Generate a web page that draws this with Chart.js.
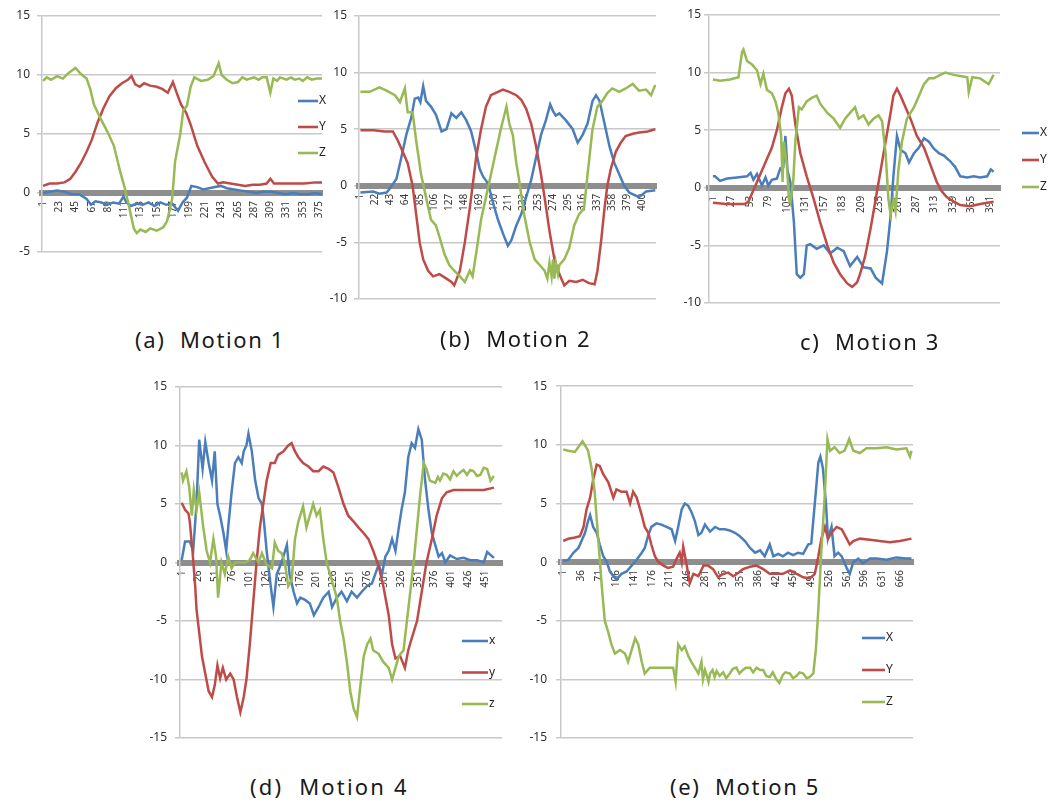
<!DOCTYPE html>
<html>
<head>
<meta charset="utf-8">
<script src="https://cdn.jsdelivr.net/npm/chart.js@4.4.1/dist/chart.umd.min.js"></script>
<style>
  body { margin: 0; background: #fff; width: 1059px; height: 805px; position: relative; overflow: hidden; font-family: "Noto Sans", sans-serif; }
  canvas { position: absolute; }
  .cap { position: absolute; font-size: 22px; line-height: 22px; color: #1a1a1a; white-space: pre; letter-spacing: 1.6px; }
</style>
</head>
<body>
<canvas id="m1" width="340" height="300" style="left:0;top:0"></canvas>
<canvas id="m2" width="345" height="320" style="left:325px;top:0"></canvas>
<canvas id="m3" width="389" height="320" style="left:670px;top:0"></canvas>
<canvas id="m4" width="380" height="390" style="left:130px;top:370px"></canvas>
<canvas id="m5" width="420" height="390" style="left:510px;top:370px"></canvas>
<div class="cap" style="left:135px;top:328px">(a)  Motion 1</div>
<div class="cap" style="left:440px;top:327px">(b)  Motion 2</div>
<div class="cap" style="left:800px;top:330px">c)  Motion 3</div>
<div class="cap" style="left:250px;top:775px;letter-spacing:2.2px">(d)  Motion 4</div>
<div class="cap" style="left:670px;top:775px">(e)  Motion 5</div>
<script>
// readings are [sample number, value] taken off the original plots

// Motion 1
var m1Ticks = [1, 23, 45, 67, 89, 111, 133, 155, 177, 199, 221, 243, 265, 287, 309, 331, 353, 375];
var m1X = [[1,0.0],[10,0.1],[20,0.2],[30,0.1],[40,-0.1],[50,-0.1],[60,-0.5],[66,-1.0],[72,-0.7],[80,-0.8],[88,-1.0],[96,-0.8],[104,-0.9],[110,-0.3],[114,-0.8],[120,-1.1],[128,-0.9],[136,-1.0],[144,-0.8],[152,-1.1],[160,-0.8],[168,-1.0],[176,-0.9],[184,-1.5],[190,-0.8],[196,-0.4],[202,0.6],[210,0.5],[218,0.3],[226,0.4],[234,0.5],[242,0.6],[250,0.4],[260,0.3],[270,0.2],[280,0.1],[290,0.0],[300,0.1],[310,0.1],[320,0.0],[330,-0.1],[340,0.0],[350,-0.1],[360,-0.1],[370,0.0],[379,-0.1]];
var m1Y = [[1,0.6],[10,0.8],[20,0.8],[30,0.9],[38,1.2],[45,1.8],[52,2.5],[60,3.5],[67,4.5],[75,6.0],[83,7.2],[91,8.2],[100,8.9],[108,9.3],[116,9.6],[121,9.9],[126,9.2],[132,9.0],[138,9.3],[146,9.1],[155,9.0],[163,8.8],[170,8.5],[177,9.4],[182,8.5],[188,7.5],[195,6.8],[201,5.8],[210,4.0],[220,2.6],[230,1.4],[238,0.8],[245,0.9],[255,0.8],[265,0.7],[275,0.6],[285,0.7],[295,0.7],[304,0.8],[309,1.2],[314,0.8],[325,0.8],[340,0.8],[355,0.8],[370,0.9],[379,0.9]];
var m1Z = [[1,9.5],[6,9.8],[12,9.6],[20,9.9],[28,9.7],[36,10.2],[45,10.6],[52,10.1],[60,9.7],[65,8.8],[70,7.5],[79,6.3],[89,5.1],[97,4.0],[106,1.7],[111,0.6],[117,-1.0],[124,-3.0],[128,-3.4],[133,-3.1],[140,-3.3],[146,-3.0],[155,-3.2],[164,-2.9],[169,-2.4],[176,-0.5],[180,2.7],[187,5.0],[191,7.0],[196,7.4],[201,9.0],[206,9.8],[215,9.5],[224,9.6],[232,9.9],[239,11.0],[243,10.0],[250,9.6],[258,9.3],[265,9.4],[271,9.8],[277,9.6],[287,9.8],[293,9.6],[298,9.8],[304,9.8],[309,8.5],[313,9.7],[318,9.5],[322,9.8],[331,9.6],[337,9.8],[342,9.6],[348,9.7],[353,9.5],[359,9.8],[365,9.6],[372,9.7],[379,9.7]];

// Motion 2
var m2Ticks = [1, 22, 43, 64, 85, 106, 127, 148, 169, 190, 211, 232, 253, 274, 295, 316, 337, 358, 379, 400];
var m2X = [[1,-0.6],[19,-0.5],[28,-0.7],[38,-0.6],[42,-0.3],[52,0.6],[59,2.5],[66,4.5],[73,6.0],[78,7.7],[83,7.8],[86,7.4],[90,8.8],[94,7.5],[101,7.0],[108,6.3],[116,4.8],[123,5.0],[130,6.4],[137,6.0],[144,6.5],[151,5.8],[158,4.8],[165,3.0],[170,1.5],[175,0.8],[182,0.2],[189,-1.5],[196,-3.0],[203,-4.2],[210,-5.3],[215,-4.8],[222,-3.5],[229,-2.5],[236,-1.0],[243,0.5],[250,2.5],[257,4.5],[264,5.8],[270,7.2],[274,6.6],[278,6.2],[283,6.4],[292,5.8],[302,5.0],[309,3.8],[316,4.5],[323,5.5],[330,7.5],[335,8.0],[340,7.5],[347,5.5],[354,3.5],[361,2.0],[368,1.0],[375,0.0],[382,-0.6],[389,-0.8],[396,-1.0],[406,-0.5],[419,-0.4]];
var m2Y = [[1,4.9],[20,4.9],[35,4.8],[47,4.8],[54,4.0],[61,3.0],[68,2.0],[75,0.0],[80,-2.5],[85,-5.0],[90,-6.5],[97,-7.5],[104,-8.0],[113,-7.8],[123,-8.2],[130,-8.5],[134,-8.8],[142,-7.5],[149,-5.0],[156,-2.0],[160,0.0],[165,2.5],[172,5.0],[179,7.0],[186,8.0],[196,8.3],[203,8.5],[212,8.3],[222,8.0],[229,7.6],[236,6.8],[243,5.5],[250,3.5],[257,1.0],[262,-1.0],[269,-4.0],[276,-6.5],[283,-7.8],[290,-8.8],[297,-8.4],[307,-8.5],[316,-8.3],[325,-8.6],[333,-8.7],[337,-7.5],[342,-5.0],[347,-2.0],[351,0.0],[356,1.5],[363,3.0],[370,3.8],[377,4.4],[387,4.6],[396,4.7],[408,4.8],[419,5.0]];
var m2Z = [[1,8.3],[14,8.3],[28,8.7],[38,8.4],[50,8.0],[57,7.4],[64,8.6],[68,6.5],[75,6.5],[80,4.0],[87,1.0],[94,-1.0],[101,-3.0],[108,-3.5],[113,-4.5],[120,-6.0],[127,-7.0],[134,-7.5],[142,-8.0],[149,-8.5],[156,-7.5],[160,-8.0],[165,-6.0],[172,-3.0],[179,-1.0],[186,1.0],[193,3.0],[200,5.0],[208,7.0],[212,5.5],[217,4.5],[222,2.0],[226,0.5],[233,-2.5],[241,-5.0],[248,-6.5],[255,-7.0],[262,-7.5],[266,-8.2],[269,-6.8],[272,-8.0],[274,-6.5],[276,-8.2],[278,-6.8],[281,-7.8],[283,-7.0],[290,-6.5],[297,-5.5],[304,-3.5],[311,-2.5],[318,-2.0],[323,1.0],[330,5.0],[337,7.0],[344,7.5],[351,8.2],[358,8.6],[368,8.3],[377,8.6],[387,9.0],[396,8.4],[406,8.5],[413,8.0],[419,8.9]];

// Motion 3
var m3Ticks = [1, 27, 53, 79, 105, 131, 157, 183, 209, 235, 261, 287, 313, 339, 365, 391];
var m3X = [[1,1.0],[4,1.0],[11,0.6],[21,0.8],[35,0.9],[49,1.0],[54,1.3],[58,0.7],[63,1.2],[70,0.2],[75,0.9],[79,0.2],[84,0.7],[91,0.8],[96,1.7],[100,1.8],[103,4.5],[106,1.5],[110,0.5],[115,-3.0],[119,-7.5],[124,-7.8],[129,-7.5],[133,-5.0],[138,-4.9],[147,-5.3],[157,-5.0],[166,-5.7],[176,-5.2],[185,-5.5],[194,-6.8],[204,-6.0],[213,-6.9],[223,-7.0],[230,-7.8],[239,-8.3],[246,-5.5],[251,-2.5],[255,1.0],[260,4.5],[265,3.3],[272,3.0],[277,2.2],[284,3.0],[291,3.5],[298,4.3],[305,4.0],[312,3.4],[319,3.0],[326,2.8],[335,2.3],[342,1.8],[349,1.0],[359,0.9],[368,1.0],[377,0.9],[387,1.0],[392,1.6],[396,1.4]];
var m3Y = [[1,-1.3],[20,-1.4],[35,-1.4],[46,-1.4],[51,-1.2],[56,-0.5],[63,0.5],[70,1.5],[77,2.5],[84,3.5],[91,5.0],[98,7.0],[103,8.2],[108,8.6],[112,8.0],[117,5.5],[124,3.0],[133,1.0],[143,-1.0],[152,-3.0],[162,-5.0],[171,-6.5],[180,-7.5],[190,-8.3],[197,-8.6],[204,-8.2],[208,-7.5],[215,-6.0],[223,-3.5],[230,-1.0],[237,1.5],[244,4.0],[251,6.5],[255,8.0],[260,8.6],[265,8.0],[272,7.0],[279,6.0],[288,4.5],[298,3.5],[307,2.0],[316,0.5],[323,-0.3],[330,-0.8],[340,-1.2],[349,-1.5],[363,-1.6],[377,-1.4],[387,-1.3],[396,-1.2]];
var m3Z = [[1,9.4],[11,9.3],[25,9.4],[37,9.6],[42,11.8],[44,12.0],[49,11.0],[56,10.7],[63,10.2],[68,9.0],[72,9.9],[77,8.5],[84,8.2],[89,7.5],[93,6.5],[97,4.5],[99,0.5],[101,4.0],[105,2.0],[108,-1.0],[110,-1.3],[114,0.5],[117,4.0],[122,7.0],[126,6.8],[133,7.5],[140,7.8],[147,8.0],[152,7.3],[162,6.5],[171,6.0],[180,5.2],[187,6.0],[194,6.5],[201,7.0],[206,6.0],[213,6.3],[220,5.5],[227,6.0],[234,6.3],[239,5.8],[244,3.0],[248,-1.0],[251,-2.3],[255,-1.0],[258,-2.0],[262,1.5],[267,4.0],[274,6.0],[284,7.0],[291,8.0],[298,9.0],[305,9.5],[312,9.5],[321,9.8],[328,10.0],[340,9.8],[349,9.7],[359,9.6],[361,8.3],[366,9.6],[377,9.5],[389,9.0],[396,9.8]];

// Motion 4
var m4Ticks = [1, 26, 51, 76, 101, 126, 151, 176, 201, 226, 251, 276, 301, 326, 351, 376, 401, 426, 451];
var m4X = [[1,0.2],[6,1.8],[13,1.8],[18,1.0],[23,5.0],[27,10.5],[32,8.0],[36,10.3],[41,8.5],[46,7.0],[50,9.5],[54,5.0],[58,4.0],[63,2.5],[67,1.0],[70,3.0],[75,6.0],[80,8.5],[85,9.0],[90,8.5],[93,9.5],[97,10.0],[100,11.0],[105,9.5],[110,7.0],[115,5.5],[120,5.0],[123,3.5],[127,1.0],[133,-2.0],[137,-3.8],[142,-1.0],[149,0.0],[157,1.5],[161,-1.0],[167,-2.5],[172,-3.5],[177,-3.0],[184,-3.2],[191,-3.5],[197,-4.5],[204,-3.8],[211,-3.0],[219,-2.5],[224,-3.8],[231,-3.0],[238,-2.5],[246,-3.3],[253,-2.5],[261,-3.0],[268,-2.5],[276,-2.0],[283,-1.8],[288,-1.0],[293,-0.2],[298,-1.0],[303,0.5],[308,1.0],[313,2.0],[318,1.0],[323,3.0],[327,4.5],[332,6.0],[337,9.0],[342,10.2],[347,9.8],[352,11.4],[357,10.5],[362,7.0],[367,4.5],[372,2.5],[377,1.5],[382,0.5],[387,0.8],[392,0.0],[399,0.6],[409,0.3],[419,0.4],[429,0.2],[439,0.2],[449,0.0],[454,0.9],[464,0.4]];
var m4Y = [[1,5.1],[6,4.5],[11,4.2],[13,3.5],[17,1.0],[21,-2.0],[23,-4.0],[27,-6.0],[31,-8.0],[36,-9.5],[41,-11.0],[46,-11.5],[50,-10.5],[54,-8.8],[58,-9.9],[62,-9.0],[67,-10.0],[73,-9.5],[78,-10.0],[83,-11.5],[88,-12.8],[93,-11.5],[97,-10.0],[102,-7.0],[107,-3.5],[112,0.0],[117,3.0],[122,5.0],[127,7.0],[133,8.5],[139,8.5],[144,9.2],[152,9.5],[159,10.0],[164,10.2],[169,9.5],[174,9.0],[181,8.5],[189,8.2],[196,7.8],[204,7.8],[211,8.2],[219,8.0],[226,7.7],[233,6.5],[241,5.0],[248,4.0],[256,3.5],[263,3.0],[271,2.5],[278,2.0],[285,1.0],[293,-0.3],[300,-2.0],[308,-4.5],[313,-7.0],[318,-8.2],[325,-8.0],[332,-9.0],[337,-7.5],[342,-6.5],[350,-5.0],[357,-2.5],[364,0.0],[372,2.0],[379,4.0],[387,5.5],[394,6.0],[404,6.2],[419,6.2],[434,6.2],[449,6.2],[464,6.4]];
var m4Z = [[1,7.7],[3,7.0],[8,7.8],[12,6.5],[16,4.0],[19,6.2],[23,4.5],[27,6.0],[33,3.0],[38,1.0],[43,0.0],[48,2.0],[52,0.5],[55,-3.0],[60,0.0],[65,-1.0],[70,0.5],[75,-0.5],[80,0.0],[88,0.0],[95,0.0],[102,0.2],[107,0.8],[115,0.0],[120,0.8],[127,-0.2],[135,-0.5],[139,1.7],[144,1.0],[149,0.8],[154,0.0],[159,-2.0],[164,-1.5],[169,2.0],[174,3.5],[181,4.8],[186,3.0],[191,4.0],[196,5.0],[201,4.0],[206,4.5],[211,2.0],[216,0.0],[221,-1.0],[226,-2.0],[231,-3.0],[236,-5.0],[241,-6.5],[246,-8.5],[251,-11.0],[256,-12.5],[261,-13.2],[266,-10.5],[271,-8.0],[276,-7.0],[281,-6.5],[285,-7.5],[293,-7.8],[300,-8.5],[308,-9.0],[313,-10.0],[318,-9.0],[323,-8.0],[330,-7.5],[335,-5.0],[340,-2.5],[345,0.0],[350,3.0],[355,6.0],[360,8.5],[364,8.0],[369,7.0],[377,6.8],[381,7.3],[384,7.0],[389,7.6],[394,7.5],[399,7.1],[404,7.8],[409,7.4],[414,7.7],[419,7.9],[424,7.5],[429,7.9],[434,7.8],[439,7.4],[444,7.5],[449,8.1],[454,8.0],[459,7.0],[464,7.4]];

// Motion 5
var m5Ticks = [1, 36, 71, 106, 141, 176, 211, 246, 281, 316, 351, 386, 421, 456, 491, 526, 561, 596, 631, 666];
var m5X = [[1,0.1],[11,0.2],[21,0.8],[31,1.2],[37,1.8],[44,2.5],[50,3.5],[54,4.0],[60,3.0],[67,2.5],[73,1.5],[80,0.5],[87,0.0],[93,-0.8],[100,-1.2],[106,-1.5],[116,-1.0],[126,-0.8],[136,-0.3],[146,0.2],[156,0.8],[162,1.2],[169,2.3],[175,3.0],[185,3.3],[195,3.2],[205,3.0],[215,2.8],[222,1.8],[228,3.0],[235,4.5],[241,5.0],[248,4.8],[254,4.3],[261,3.5],[268,2.3],[274,2.5],[281,3.2],[291,2.6],[301,3.0],[310,2.8],[320,2.8],[330,2.7],[340,2.5],[350,2.2],[360,1.8],[370,1.2],[380,0.8],[390,1.0],[399,0.5],[409,1.5],[416,0.5],[426,0.7],[435,0.5],[445,0.8],[455,0.6],[465,0.8],[475,0.7],[485,1.5],[491,1.6],[498,5.0],[505,8.5],[509,9.0],[514,8.0],[520,5.0],[524,2.0],[531,3.0],[537,0.5],[544,0.8],[551,0.5],[561,-0.5],[567,-1.0],[574,0.0],[584,0.3],[593,-0.1],[607,0.3],[620,0.3],[640,0.2],[659,0.4],[679,0.3],[689,0.3]];
var m5Y = [[1,1.8],[11,2.0],[24,2.1],[34,2.2],[41,3.0],[47,4.5],[54,5.5],[60,7.0],[67,8.3],[73,8.2],[80,7.5],[90,6.8],[100,5.5],[106,6.2],[116,6.0],[126,6.0],[133,5.0],[139,6.0],[146,5.5],[156,4.0],[162,3.0],[169,2.5],[175,1.5],[182,0.5],[189,0.0],[199,-0.3],[208,-0.5],[218,-0.4],[225,0.3],[231,0.8],[235,0.0],[238,1.3],[245,-0.3],[251,-1.8],[258,-1.0],[268,-1.2],[278,-0.3],[287,-0.3],[297,-0.6],[307,-1.3],[317,-1.0],[327,-0.9],[337,-1.2],[347,-0.9],[356,-0.6],[370,-0.4],[383,-0.3],[396,-0.6],[409,-1.0],[422,-1.0],[435,-1.0],[449,-0.7],[462,-1.0],[475,-1.3],[488,-1.4],[498,-1.0],[505,0.5],[511,2.0],[518,3.0],[524,2.0],[531,2.5],[541,3.0],[551,2.8],[561,2.0],[567,1.5],[574,1.8],[587,2.0],[607,1.9],[626,1.8],[646,1.7],[666,1.8],[689,2.0]];
var m5Z = [[1,9.6],[11,9.5],[24,9.4],[34,10.0],[39,10.3],[46,9.8],[50,9.5],[57,8.0],[63,6.0],[70,2.0],[77,-2.0],[83,-5.0],[90,-6.0],[96,-7.0],[103,-7.8],[113,-7.5],[123,-7.8],[129,-8.5],[136,-7.5],[143,-6.5],[149,-7.0],[156,-8.5],[162,-9.5],[172,-9.0],[185,-9.0],[199,-9.0],[208,-9.0],[218,-9.0],[223,-10.2],[228,-7.0],[235,-7.5],[241,-7.2],[248,-8.0],[254,-8.5],[261,-9.0],[268,-9.5],[274,-8.5],[277,-10.0],[281,-9.2],[284,-9.6],[288,-10.2],[291,-9.5],[296,-9.2],[300,-9.8],[304,-9.3],[310,-9.7],[317,-9.4],[323,-9.9],[330,-9.5],[336,-9.1],[343,-9.0],[349,-9.5],[356,-9.2],[362,-9.0],[370,-9.0],[376,-9.4],[383,-9.0],[390,-9.2],[396,-9.2],[402,-9.7],[409,-9.8],[415,-9.4],[422,-10.0],[428,-10.3],[435,-9.6],[440,-9.4],[449,-9.5],[455,-9.9],[462,-9.7],[468,-9.4],[475,-9.5],[482,-9.9],[488,-9.8],[495,-9.5],[500,-7.5],[505,-4.0],[511,1.0],[518,6.0],[523,10.5],[528,9.5],[537,9.8],[547,9.3],[557,9.5],[566,10.5],[574,9.5],[587,9.3],[600,9.7],[620,9.7],[640,9.8],[659,9.6],[679,9.7],[686,9.0],[689,9.5]];

var colors = ['#4a7ebb', '#be4b48', '#98b954'];

// legend drawn next to the lines, the way the spreadsheet placed it
var sideLegend = {
    id: 'sideLegend',
    afterDraw: function(chart, args, opts) {
        if (!opts || opts.x === undefined) return;
        var ctx = chart.ctx;
        ctx.save();
        ctx.font = '12px "Noto Sans"';
        ctx.textBaseline = 'middle';
        chart.data.datasets.forEach(function(ds, i) {
            var y = opts.y + i * opts.gap;
            ctx.strokeStyle = ds.borderColor;
            ctx.lineWidth = 2.6;
            ctx.beginPath();
            ctx.moveTo(opts.x, y);
            ctx.lineTo(opts.x + opts.len, y);
            ctx.stroke();
            ctx.fillStyle = '#222';
            ctx.fillText(ds.label, opts.x + opts.len + 1, y);
        });
        ctx.restore();
    }
};

function motionChart(id, names, series, ticks, c) {
    new Chart(document.getElementById(id).getContext('2d'), {
        type: 'line',
        data: {
            datasets: series.map(function(s, i) {
                return {
                    label: names[i],
                    data: s.map(function(p) { return {x: p[0], y: p[1]}; }),
                    borderColor: colors[i],
                    borderWidth: 2.5,
                    pointRadius: 0,
                    fill: false,
                    order: 2 - i
                };
            })
        },
        options: {
            responsive: false,
            animation: false,
            events: [],
            layout: {padding: c.pad},
            plugins: {
                legend: {display: false},
                tooltip: {enabled: false},
                sideLegend: c.legend
            },
            scales: {
                x: {
                    type: 'linear',
                    min: c.xMin,
                    max: c.xMax,
                    position: {y: 0},
                    afterBuildTicks: function(s) { s.ticks = ticks.map(function(v) { return {value: v}; }); },
                    ticks: {autoSkip: false, minRotation: 90, maxRotation: 90, padding: 8, color: '#383838', font: {size: 10, family: '"Noto Sans"'}},
                    grid: {drawOnChartArea: false, drawTicks: false},
                    border: {color: '#8e8e8e', width: 6}
                },
                y: {
                    min: c.yMin,
                    max: 15,
                    afterFit: function(s) { s.width = c.yWidth; },
                    ticks: {stepSize: 5, padding: c.yPad, color: '#303030', font: {size: 12, family: '"Noto Sans"'}},
                    grid: {color: '#c8c8c8', lineWidth: 1.5, tickLength: 5},
                    border: {color: '#c8c8c8', width: 1.5}
                }
            }
        },
        plugins: [sideLegend]
    });
}

motionChart('m1', ['X', 'Y', 'Z'], [m1X, m1Y, m1Z], m1Ticks,
    {xMin: -0.4, xMax: 379, yMin: -5, yWidth: 42, yPad: 7, pad: {top: 16, bottom: 48, right: 18, left: 0}, legend: {x: 298, y: 101, gap: 26, len: 20}});
motionChart('m2', ['X', 'Y', 'Z'], [m2X, m2Y, m2Z], m2Ticks,
    {xMin: -1, xMax: 420, yMin: -10, yWidth: 34, yPad: 7, pad: {top: 16, bottom: 21, right: 14, left: 0}, legend: false});
motionChart('m3', ['X', 'Y', 'Z'], [m3X, m3Y, m3Z], m3Ticks,
    {xMin: -4.5, xMax: 405, yMin: -10, yWidth: 39, yPad: 3, pad: {top: 15, bottom: 17, right: 59, left: 0}, legend: {x: 352, y: 133, gap: 27, len: 17}});
motionChart('m4', ['x', 'y', 'z'], [m4X, m4Y, m4Z], m4Ticks,
    {xMin: -1.5, xMax: 476, yMin: -15, yWidth: 50, yPad: 8, pad: {top: 17, bottom: 22, right: 8, left: 0}, legend: {x: 332, y: 271, gap: 31.5, len: 26}});
motionChart('m5', ['X', 'Y', 'Z'], [m5X, m5Y, m5Z], m5Ticks,
    {xMin: -3.5, xMax: 692, yMin: -15, yWidth: 51, yPad: 9, pad: {top: 16, bottom: 22, right: 17, left: 0}, legend: {x: 352, y: 268, gap: 32, len: 23}});
</script>
</body>
</html>
